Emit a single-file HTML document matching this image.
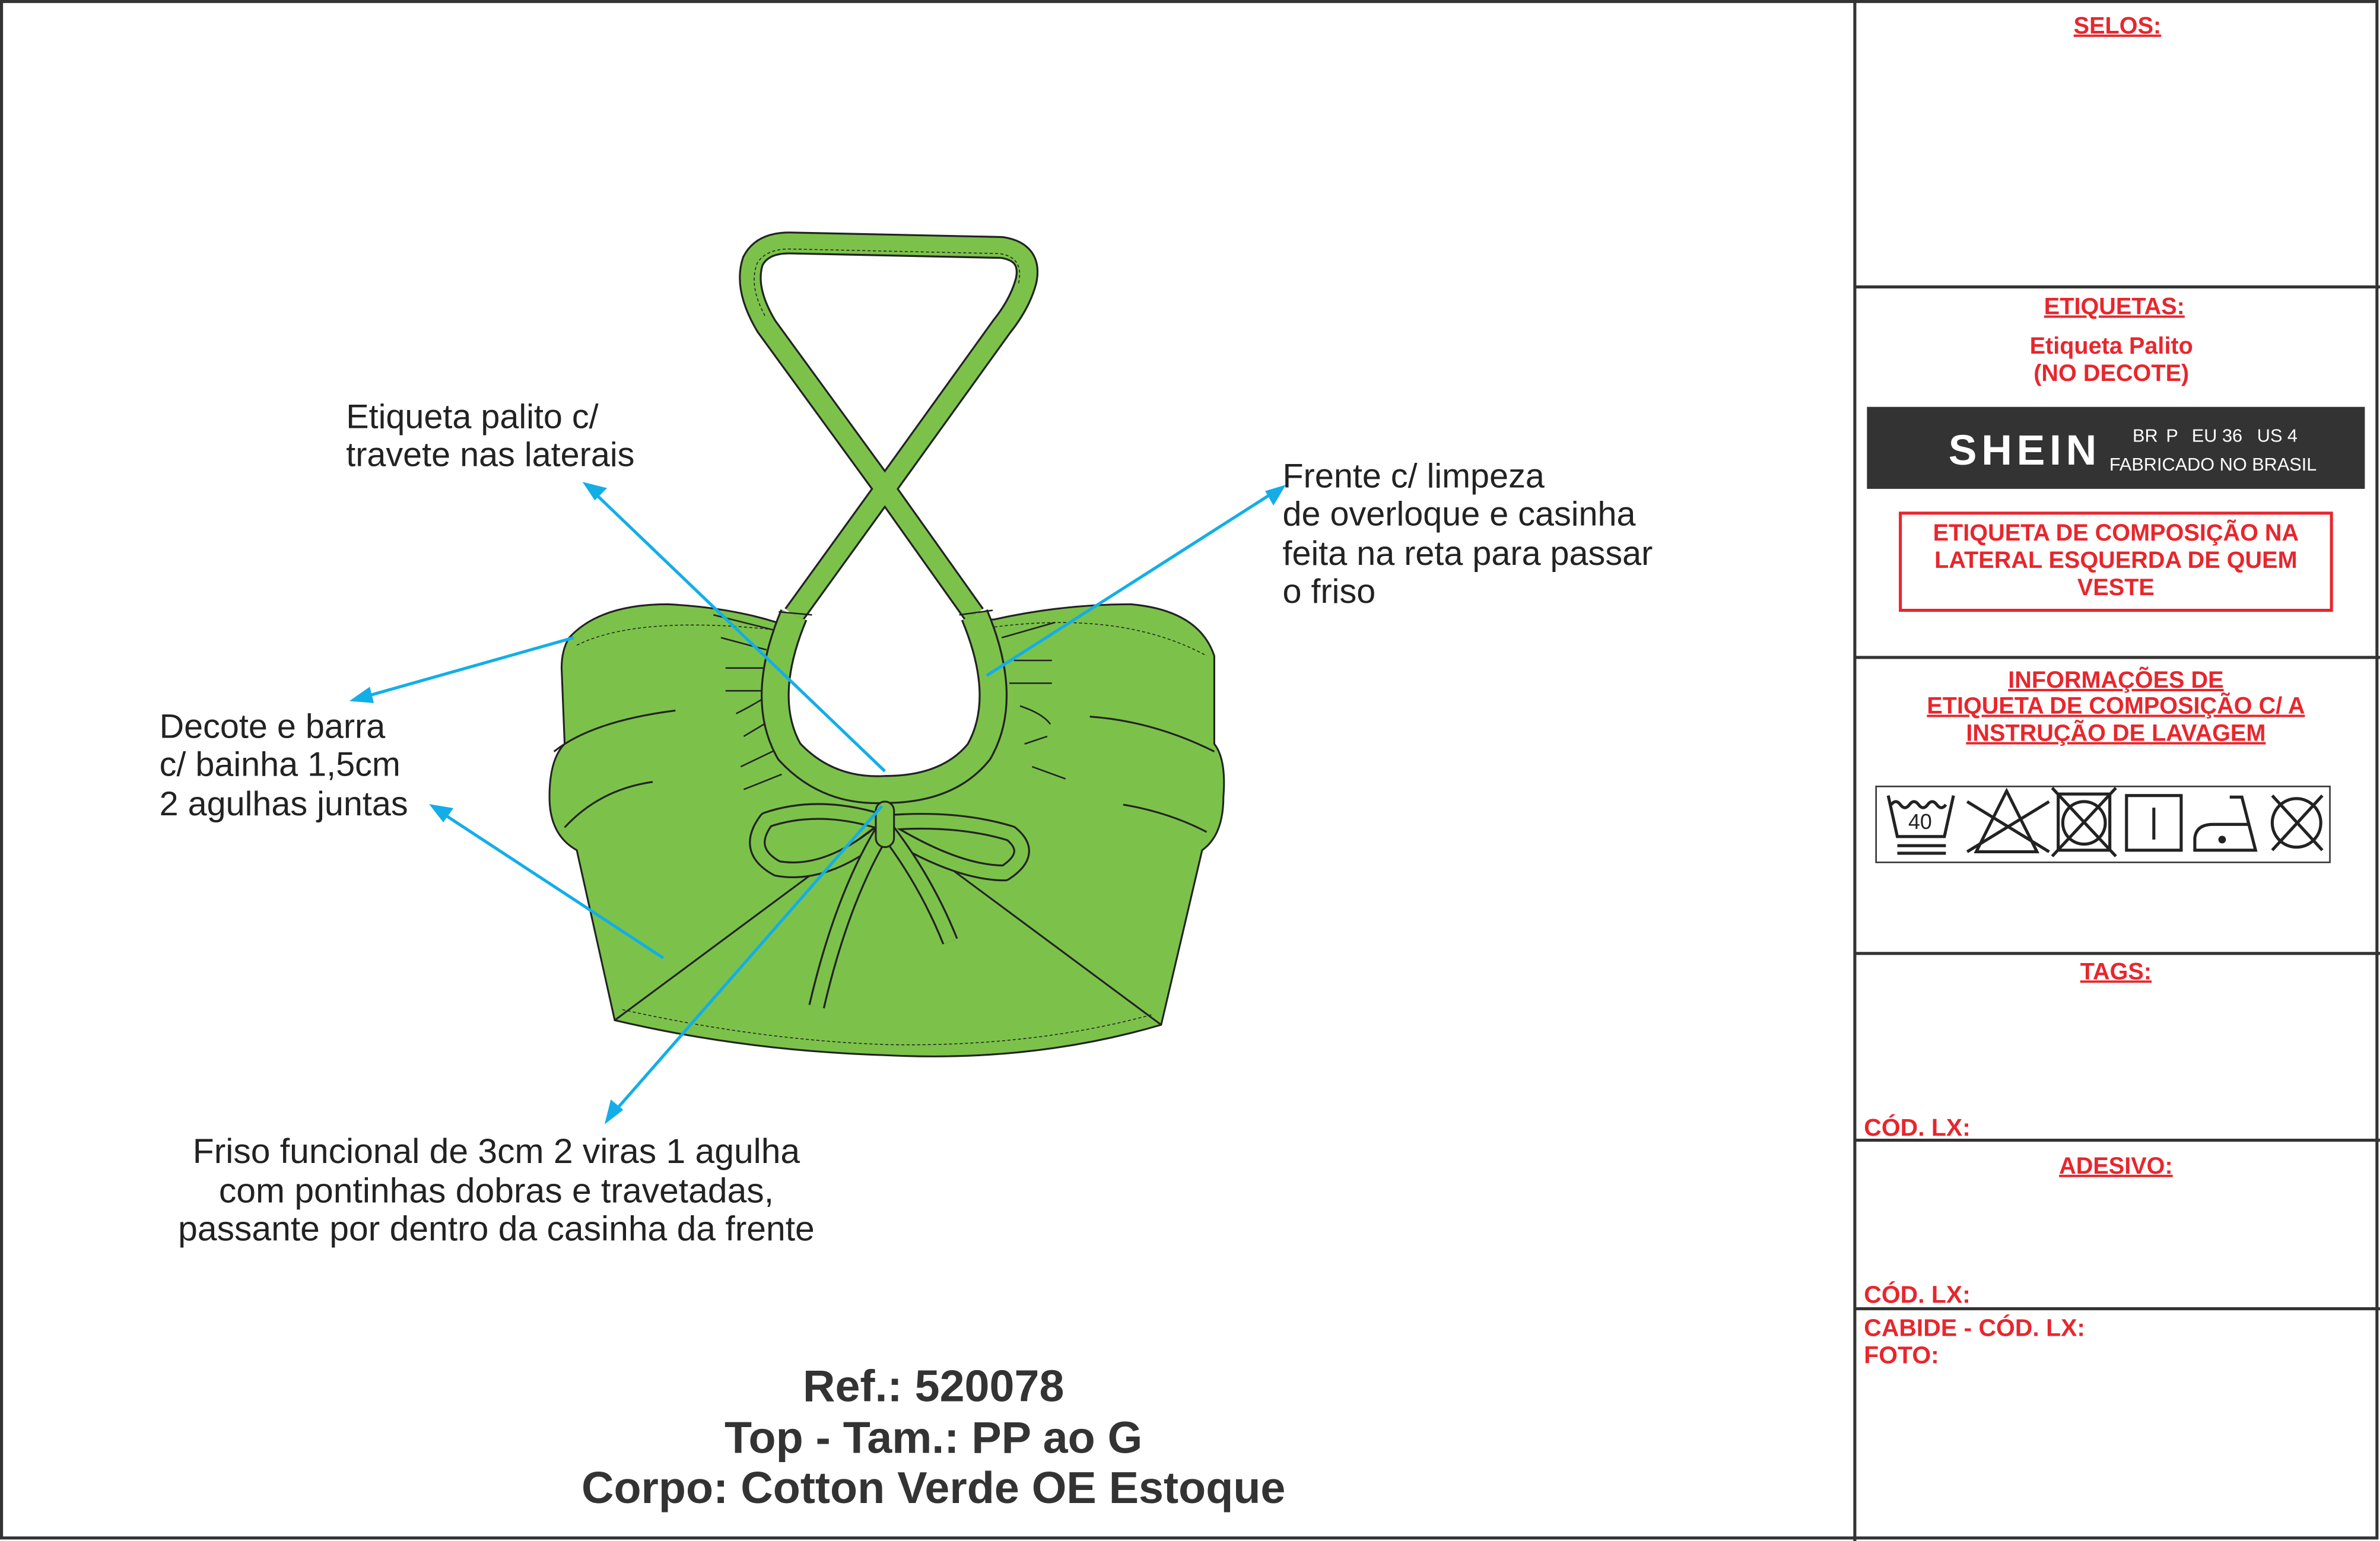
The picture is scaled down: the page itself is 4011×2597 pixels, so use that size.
<!DOCTYPE html>
<html><head><meta charset="utf-8"><style>
html,body{margin:0;padding:0;background:#fff}
svg{display:block}
</style></head><body>
<svg width="4011" height="2597" viewBox="0 0 1568 1015" preserveAspectRatio="none" xmlns="http://www.w3.org/2000/svg" font-family="Liberation Sans, sans-serif">
<rect x="1" y="1" width="1565" height="1012" fill="#fff" stroke="#333" stroke-width="2"/>
<line x1="1222" y1="0" x2="1222" y2="1015" stroke="#333" stroke-width="2"/>
<g stroke="#333" stroke-width="2">
<line x1="1222" y1="189" x2="1568" y2="189"/>
<line x1="1222" y1="433" x2="1568" y2="433"/>
<line x1="1222" y1="628" x2="1568" y2="628"/>
<line x1="1222" y1="751" x2="1568" y2="751"/>
<line x1="1222" y1="862" x2="1568" y2="862"/>
</g>
<g fill="#e8262d" font-weight="bold" font-size="15.5" text-anchor="middle">
<text x="1395" y="22" text-decoration="underline">SELOS:</text>
<text x="1393" y="207" text-decoration="underline">ETIQUETAS:</text>
<text x="1391" y="233">Etiqueta Palito</text>
<text x="1391" y="251">(NO DECOTE)</text>
<text x="1394" y="356">ETIQUETA DE COMPOSIÇÃO NA</text>
<text x="1394" y="374">LATERAL ESQUERDA DE QUEM</text>
<text x="1394" y="392">VESTE</text>
<text x="1394" y="453" text-decoration="underline">INFORMAÇÕES DE</text>
<text x="1394" y="470" text-decoration="underline">ETIQUETA DE COMPOSIÇÃO C/ A</text>
<text x="1394" y="488" text-decoration="underline">INSTRUÇÃO DE LAVAGEM</text>
<text x="1394" y="645" text-decoration="underline">TAGS:</text>
<text x="1394" y="773" text-decoration="underline">ADESIVO:</text>
</g>
<g fill="#e8262d" font-weight="bold" font-size="16">
<text x="1228" y="748">CÓD. LX:</text>
<text x="1228" y="858">CÓD. LX:</text>
<text x="1228" y="880">CABIDE - CÓD. LX:</text>
<text x="1228" y="898">FOTO:</text>
</g>
<rect x="1252" y="338" width="284" height="64" fill="none" stroke="#e8262d" stroke-width="2"/>
<rect x="1230" y="268" width="328" height="54" fill="#333"/>
<text x="1334" y="306" fill="#fff" font-weight="bold" font-size="28" text-anchor="middle" letter-spacing="3">SHEIN</text>
<g fill="#fff" font-size="12">
<text x="1405" y="291">BR</text><text x="1427" y="291">P</text><text x="1444" y="291">EU 36</text><text x="1487" y="291">US 4</text>
</g>
<text x="1458" y="310" fill="#fff" font-size="12" text-anchor="middle">FABRICADO NO BRASIL</text>
<rect x="1236" y="518" width="299" height="50" fill="#fff" stroke="#333" stroke-width="1"/>
<g stroke="#222" stroke-width="2" fill="none">
<path d="M1244 524 L1250 551 L1281 551 L1287 524"/>
<path d="M1246 530 q3 -4 6 0 q3 4 6 0 q3 -4 6 0 q3 4 6 0 q3 -4 6 0 q3 4 6 0"/>
<line x1="1250" y1="557" x2="1282" y2="557"/><line x1="1250" y1="562" x2="1282" y2="562"/>
<path d="M1322 521 L1342 561 L1302 561 Z"/><line x1="1296" y1="528" x2="1350" y2="561"/><line x1="1296" y1="561" x2="1350" y2="528"/>
<rect x="1356" y="523" width="34" height="37"/><circle cx="1373" cy="542" r="14"/><line x1="1352" y1="519" x2="1394" y2="564"/><line x1="1394" y1="519" x2="1352" y2="564"/>
<rect x="1401" y="524" width="36" height="36"/><line x1="1419" y1="532" x2="1419" y2="553"/>
<path d="M1469 525 L1477 525 L1486 560 L1446 560 L1446 552 Q1447 543 1458 543 L1481 543"/>
<circle cx="1513" cy="542" r="16"/><line x1="1497" y1="524" x2="1530" y2="560"/><line x1="1530" y1="524" x2="1497" y2="560"/>
</g>
<circle cx="1464" cy="553" r="2.5" fill="#222"/>
<text x="1265" y="546" font-size="14" fill="#222" text-anchor="middle">40</text>

<!-- garment body -->
<g stroke="#222" stroke-width="1.2">
<path fill="#7cc24a" d="M375 420 Q395 398 440 398 Q480 400 512 410 L655 408 Q700 398 745 398 Q790 402 800 432 L800 490 Q808 500 806 525 Q806 550 792 560 L765 675 Q680 700 583 695 Q490 692 405 672 L380 560 Q362 550 362 525 Q362 500 372 490 L370 440 Q370 428 375 420 Z"/>
<path fill="none" d="M405 672 L583 540 L765 675"/>
<path fill="none" d="M365 495 Q390 475 445 468 M372 545 Q395 520 430 515 M800 495 Q760 475 718 472 M795 548 Q770 535 740 530"/>
</g>
<g stroke="#222" stroke-width="0.6" fill="none" stroke-dasharray="2 1.5">
<path d="M410 665 Q500 685 583 688 Q680 690 760 668"/>
<path d="M380 425 Q420 405 512 415 M655 413 Q740 402 795 432"/>
</g>
<g stroke="#222" stroke-width="1" fill="none">
<path d="M470 405 l40 10 M475 420 l30 8 M478 440 h25 M478 455 h25 M485 470 q10 -5 18 -10 M490 485 l20 -12 M488 505 l25 -12 M490 520 l25 -10"/>
<path d="M660 420 l35 -10 M668 435 h25 M665 450 h28 M672 465 q15 5 20 12 M675 490 l15 -5 M680 505 l22 8"/>
</g>
<!-- keyhole hole -->
<path fill="#fff" d="M523 395 L523 405 Q500 460 520 495 Q545 522 583 520 Q625 520 645 495 Q665 460 642 405 L642 395 Z"/>
<!-- halter strap -->
<g fill="none" stroke-linejoin="round">
<path d="M642 405 L583 322 L505 215 Q490 190 496 172 Q502 160 520 160 L660 163 Q680 166 676 185 Q672 200 660 215 L583 322 L523 405" stroke="#222" stroke-width="15"/>
<path d="M642 405 L583 322 L505 215 Q490 190 496 172 Q502 160 520 160 L660 163 Q680 166 676 185 Q672 200 660 215 L583 322 L523 405" stroke="#7cc24a" stroke-width="12.5"/>
<path d="M504 208 Q493 188 499 173 Q505 164 520 164 L658 167 Q675 169 671 187" stroke="#222" stroke-width="0.6" stroke-dasharray="2 1.5"/>
<!-- keyhole band -->
<path d="M523 405 Q500 460 520 495 Q545 522 583 520 Q625 520 645 495 Q665 460 642 405" stroke="#222" stroke-width="19"/>
<path d="M523 405 Q500 460 520 495 Q545 522 583 520 Q625 520 645 495 Q665 460 642 405" stroke="#7cc24a" stroke-width="16.5"/>
<path d="M513 403 L535 405 M632 405 L654 402" stroke="#222" stroke-width="1"/>
<!-- bow -->
<path d="M583 542 Q540 528 505 540 Q490 560 512 572 Q545 578 583 546 Q630 575 662 575 Q682 562 666 549 Q630 538 583 542" stroke="#222" stroke-width="11"/>
<path d="M583 542 Q540 528 505 540 Q490 560 512 572 Q545 578 583 546 Q630 575 662 575 Q682 562 666 549 Q630 538 583 542" stroke="#7cc24a" stroke-width="8.5"/>
<path d="M583 545 Q555 590 538 663 M583 545 Q610 580 626 620" stroke="#222" stroke-width="11"/>
<path d="M583 545 Q555 590 538 663 M583 545 Q610 580 626 620" stroke="#7cc24a" stroke-width="8.5"/>
</g>
<rect x="577" y="528" width="12" height="30" rx="6" fill="#7cc24a" stroke="#222" stroke-width="1.2"/>
<!-- arrows -->
<g stroke="#13aee8" stroke-width="2" fill="#13aee8">
<line x1="583" y1="508" x2="392" y2="325"/><path d="M386 319 l12 3 l-6 6 z"/>
<line x1="378" y1="420" x2="240" y2="459"/><path d="M233 461 l10 -7 l2 8 z"/>
<line x1="437" y1="631" x2="292" y2="536"/><path d="M285 531 l12 2 l-5 7 z"/>
<line x1="581" y1="531" x2="405" y2="732"/><path d="M400 738 l3 -12 l6 5 z"/>
<line x1="650" y1="445" x2="838" y2="325"/><path d="M845 321 l-6 10 l-4 -7 z"/>
</g>
<g fill="#222" font-size="22.5">
<text x="228" y="282">Etiqueta palito c/</text>
<text x="228" y="307">travete nas laterais</text>
<text x="845" y="321">Frente c/ limpeza</text>
<text x="845" y="346">de overloque e casinha</text>
<text x="845" y="372">feita na reta para passar</text>
<text x="845" y="397">o friso</text>
<text x="105" y="486">Decote e barra</text>
<text x="105" y="511">c/ bainha 1,5cm</text>
<text x="105" y="537">2 agulhas juntas</text>
</g>
<g fill="#222" font-size="23" text-anchor="middle">
<text x="327" y="766">Friso funcional de 3cm 2 viras 1 agulha</text>
<text x="327" y="792">com pontinhas dobras e travetadas,</text>
<text x="327" y="817">passante por dentro da casinha da frente</text>
</g>
<g fill="#333" font-size="29.5" font-weight="bold" text-anchor="middle">
<text x="615" y="923">Ref.: 520078</text>
<text x="615" y="957">Top - Tam.: PP ao G</text>
<text x="615" y="990">Corpo: Cotton Verde OE Estoque</text>
</g>
</svg>
</body></html>
